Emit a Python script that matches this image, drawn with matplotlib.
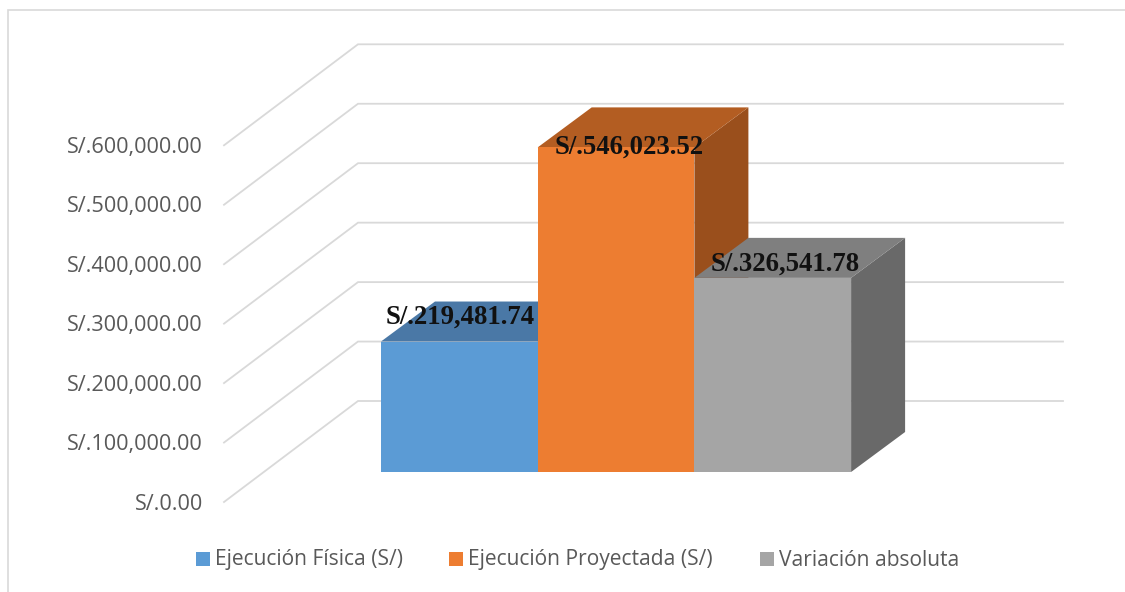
import matplotlib
matplotlib.use('Agg')
from matplotlib import pyplot as plt
from matplotlib.patches import Rectangle

# data
names = ['Ejecución Física (S/)', 'Ejecución Proyectada (S/)', 'Variación absoluta']
values = [219481.74, 546023.52, 326541.78]
bar_labels = ['S/.219,481.74', 'S/.546,023.52', 'S/.326,541.78']
ticks = [0, 100000, 200000, 300000, 400000, 500000, 600000]
tick_labels = ['S/.0.00', 'S/.100,000.00', 'S/.200,000.00', 'S/.300,000.00',
               'S/.400,000.00', 'S/.500,000.00', 'S/.600,000.00']
front = ['#5b9bd5', '#ed7d31', '#a5a5a5']
top = ['#4a78a6', '#b35d22', '#7f7f7f']
side = ['#3f6a94', '#9a4f1c', '#696969']

px_per_unit = 59.45 / 100000
base_px = 472

fig = plt.figure(figsize=(11.25, 5.92), dpi=100)
ax = fig.add_axes([0, 0, 1, 1])
ax.set_xlim(0, 1125)
# y axis in money units, floor of the bars at pixel row 472
ax.set_ylim((base_px - 592) / px_per_unit, base_px / px_per_unit)
ax.axis('off')

dy_back = 71 / px_per_unit    # back wall offset of the grid
dy_left = -30 / px_per_unit   # front edge of the grid
dy_bar = 40 / px_per_unit     # depth of the bars

grid = '#d9d9d9'
for t, lab in zip(ticks, tick_labels):
    ax.plot([224, 358, 1063], [t + dy_left, t + dy_back, t + dy_back], color=grid, lw=1.3,
            solid_joinstyle='miter', zorder=1)
    ax.text(203, t + dy_left - 2 / px_per_unit, lab, ha='right', va='center', fontsize=15.6,
            family='Open Sans', color='#595959', zorder=5)

x0 = 381
w = 156.7
d = 54
for i, v in enumerate(values):
    x = x0 + i * w
    ax.fill([x + w, x + w + d, x + w + d, x + w], [0, dy_bar, v + dy_bar, v], color=side[i], lw=0, zorder=2 + i)
    ax.fill([x, x + d, x + w + d, x + w], [v, v + dy_bar, v + dy_bar, v], color=top[i], lw=0, zorder=2 + i)
    ax.fill([x, x + w, x + w, x], [0, 0, v, v], color=front[i], lw=0, zorder=2 + i)

# data labels sit off-centre like in the pasted original
label_x = [460.5, 629.5, 785.5]
label_px = [317, 147, 264]
for lx, ly, lab in zip(label_x, label_px, bar_labels):
    ax.text(lx, (base_px - ly) / px_per_unit, lab, ha='center', va='center', fontsize=19.3,
            family='Liberation Serif', fontweight='bold', color='#111111', zorder=6)

# legend
leg_sq = [195.5, 448.5, 759.5]
for sx, n, c in zip(leg_sq, names, front):
    ax.add_patch(Rectangle((sx, (base_px - 566) / px_per_unit), 14, 14 / px_per_unit, color=c, lw=0, zorder=5))
    ax.text(sx + 19.5, (base_px - 565.5) / px_per_unit, n, ha='left', va='baseline', fontsize=15.1,
            family='Open Sans', color='#595959', zorder=5)

# chart frame, only left and top show
ytop = (base_px - 10) / px_per_unit
ybot = (base_px - 592) / px_per_unit
ax.plot([8, 8, 1125], [ybot, ytop, ytop], color=grid, lw=1.2, solid_joinstyle='miter', zorder=1)

fig.savefig('out.png', dpi=100)
